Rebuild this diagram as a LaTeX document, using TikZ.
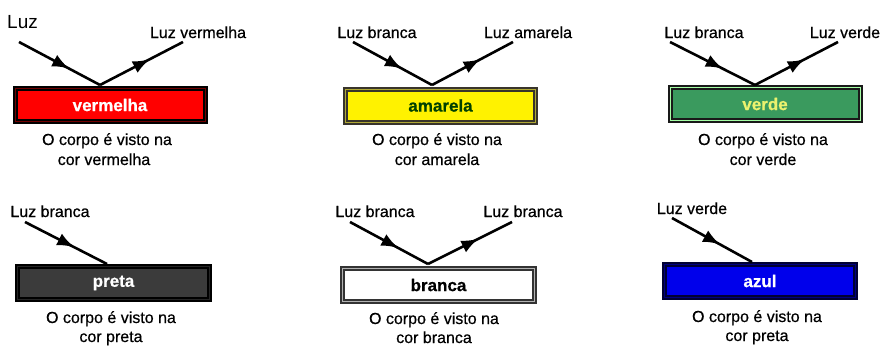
\documentclass[tikz,border=0pt]{standalone}
\usepackage{fontspec}
\setmainfont{Liberation Sans}
\newfontfamily\medfont[FakeBold=0.5]{Liberation Sans}
\newfontfamily\boxfont[FakeBold=0.6]{Liberation Sans Bold}
\usetikzlibrary{arrows.meta,decorations.markings}
\begin{document}
\begin{tikzpicture}[x=1pt,y=-1pt,
  ray/.style={line width=2.6pt,draw=black,postaction={decorate},
    decoration={markings,mark=at position #1 with {\arrow{Latex[length=17pt,width=13pt]}}}},
  ray/.default=0.6,
  lbl/.style={anchor=base,font=\medfont\fontsize{16}{19}\selectfont,inner sep=0pt},
  captxt/.style={anchor=base,font=\medfont\fontsize{16}{19}\selectfont,inner sep=0pt},
  obj/.style={minimum width=190pt,minimum height=33pt,inner sep=0pt,line width=2pt,
    double distance=1pt,font=\boxfont\fontsize{17}{20}\selectfont}
]
\useasboundingbox (0,0) rectangle (883,346);
\fill[white] (0,0) rectangle (883,346);

% ---------- panel 1 ----------
\node[anchor=base west,inner sep=0pt,font=\fontsize{19}{22}\selectfont] (luz) at (7,28) {Luz};
\node[obj,draw=black,double=red!45!black,fill=red,text=white] (box1) at (110,105) {vermelha};
\coordinate (a1) at (19,42); \coordinate (v1) at (100,85); \coordinate (b1) at (183,42);
\draw[ray=0.62] (a1) -- (v1);
\draw[ray=0.6] (v1) -- (b1);
\node[lbl] (out1) at (198,38) {Luz vermelha};
\node[captxt] (c1a) at (107,145) {O corpo é visto na};
\node[captxt] (c1b) at (104,165) {cor vermelha};

% ---------- panel 2 ----------
\node[obj,draw=black!80!olive,double=olive!70!white,fill=yellow,text=green!25!black] (box2) at (440.5,105.5) {amarela};
\coordinate (a2) at (353,42); \coordinate (v2) at (432,85); \coordinate (b2) at (513,42);
\draw[ray=0.62] (a2) -- (v2);
\draw[ray=0.6] (v2) -- (b2);
\node[lbl] (in2) at (377,38) {Luz branca};
\node[lbl] (out2) at (528,38) {Luz amarela};
\node[captxt] (c2a) at (437,145) {O corpo é visto na};
\node[captxt] (c2b) at (437,165) {cor amarela};

% ---------- panel 3 ----------
\node[obj,draw=black!90,double=green!35!white,fill={rgb,255:red,58;green,154;blue,94},text={rgb,255:red,235;green,242;blue,110}] (box3) at (765,104) {verde};
\coordinate (a3) at (670,42); \coordinate (v3) at (755,85); \coordinate (b3) at (838,42);
\draw[ray=0.62] (a3) -- (v3);
\draw[ray=0.6] (v3) -- (b3);
\node[lbl] (in3) at (704,38) {Luz branca};
\node[lbl] (out3) at (845,38) {Luz verde};
\node[captxt] (c3a) at (763,145) {O corpo é visto na};
\node[captxt] (c3b) at (763,165) {cor verde};

% ---------- panel 4 ----------
\node[obj,draw=black,double=black!85,fill=black!77,text=white,minimum width=192pt] (box4) at (113.5,283) {preta};
\coordinate (a4) at (25,222); \coordinate (v4) at (107,264);
\draw[ray=0.6] (a4) -- (v4);
\node[lbl] (in4) at (50,217) {Luz branca};
\node[captxt] (c4a) at (111,323) {O corpo é visto na};
\node[captxt] (c4b) at (111,342) {cor preta};

% ---------- panel 5 ----------
\node[obj,draw=black!80,double=black!30,fill=white,text=black,minimum width=192pt] (box5) at (438.5,285) {branca};
\coordinate (a5) at (350,222); \coordinate (v5) at (428,264); \coordinate (b5) at (512,222);
\draw[ray=0.62] (a5) -- (v5);
\draw[ray=0.6] (v5) -- (b5);
\node[lbl] (in5) at (375,217) {Luz branca};
\node[lbl] (out5) at (523,217) {Luz branca};
\node[captxt] (c5a) at (434,324) {O corpo é visto na};
\node[captxt] (c5b) at (434,343) {cor branca};

% ---------- panel 6 ----------
\node[obj,draw=blue!20!black,double=blue!50!black,fill={rgb,255:red,0;green,0;blue,235},text=white,minimum width=191pt] (box6) at (760,281) {azul};
\coordinate (a6) at (672,218); \coordinate (v6) at (752,262);
\draw[ray=0.6] (a6) -- (v6);
\node[lbl] (in6) at (692,214) {Luz verde};
\node[captxt] (c6a) at (757,322) {O corpo é visto na};
\node[captxt] (c6b) at (757,341) {cor preta};
\end{tikzpicture}
\end{document}
